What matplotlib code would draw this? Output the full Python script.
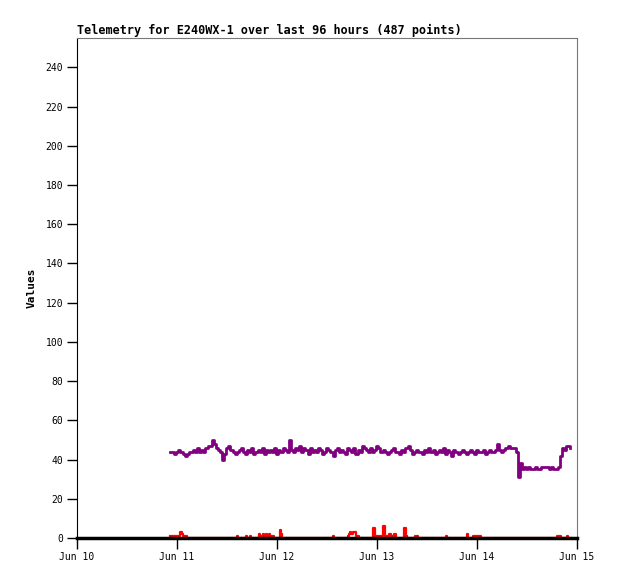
"""Telemetry chart for E240WX-1, last 96 hours."""
import matplotlib
matplotlib.use("Agg")
import matplotlib.pyplot as plt
import matplotlib.dates as mdates
import pandas as pd

t0 = pd.Timestamp("2024-06-10")

# purple channel, one reading every 30 min starting Jun 10 + 0.93 d
purple_start = 0.93
purple_vals = [
    44, 44, 43, 44, 45, 44, 43, 42, 43, 44,
    44, 45, 44, 46, 44, 45, 44, 46, 47, 47,
    50, 48, 46, 45, 44, 40, 43, 46, 47, 45,
    44, 43, 44, 45, 46, 44, 43, 45, 44, 46,
    43, 44, 45, 44, 46, 43, 45, 44, 45, 44,
    46, 43, 45, 44, 46, 45, 44, 50, 45, 44,
    46, 45, 47, 44, 46, 45, 43, 46, 44, 45,
    44, 46, 45, 43, 44, 46, 45, 44, 42, 45,
    46, 44, 45, 44, 43, 46, 45, 44, 46, 43,
    45, 44, 47, 46, 45, 44, 46, 44, 45, 47,
    46, 44, 45, 44, 43, 44, 45, 46, 44, 44,
    43, 45, 44, 46, 47, 45, 43, 44, 45, 44,
    44, 43, 45, 44, 46, 44, 45, 43, 44, 45,
    44, 46, 43, 45, 44, 42, 45, 44, 43, 44,
    45, 44, 43, 44, 45, 44, 43, 45, 44, 44,
    45, 43, 44, 45, 44, 44, 45, 48, 45, 44,
    45, 46, 47, 46, 46, 46, 44, 31, 38, 35,
    36, 35, 36, 35, 35, 36, 35, 35, 36, 36,
    36, 36, 35, 36, 35, 35, 36, 42, 46, 45,
    47, 47, 46,
]

# red channel, sparse readings (day offset from Jun 10, value)
red_days = [0.93, 1.02, 1.03, 1.05, 1.06, 1.10,
            1.60, 1.61, 1.69, 1.70, 1.73, 1.74,
            1.82, 1.83, 1.86, 1.87, 1.89, 1.90, 1.92, 1.93, 1.97,
            2.03, 2.04, 2.05,
            2.56, 2.57,
            2.71, 2.72, 2.73, 2.74, 2.76, 2.78, 2.79, 2.82,
            2.96, 2.98, 3.06, 3.08, 3.12, 3.14, 3.17, 3.19,
            3.27, 3.29, 3.30,
            3.38, 3.41, 3.69, 3.70, 3.90, 3.91, 3.96, 4.04,
            4.80, 4.84, 4.90, 4.91, 4.94]
red_vals = [1, 1, 3, 2, 1, 0,
            1, 0, 1, 0, 1, 0,
            2, 1, 2, 1, 2, 1, 2, 1, 0,
            4, 2, 0,
            1, 0,
            1, 2, 3, 2, 3, 3, 1, 0,
            5, 1, 6, 1, 2, 1, 2, 0,
            5, 1, 0,
            1, 0, 1, 0, 2, 0, 1, 0,
            1, 0, 1, 0, 0]

purple_t = pd.date_range(t0 + pd.Timedelta(days=purple_start),
                         periods=len(purple_vals), freq="30min")
red_t = [t0 + pd.Timedelta(days=d) for d in red_days]

mono = "DejaVu Sans Mono"
fig = plt.figure(figsize=(6.18, 5.79), dpi=100)
ax = fig.add_axes([77 / 618, 41 / 579, 500 / 618, 500 / 579])

ax.plot(red_t, red_vals, color="red", lw=1.6, drawstyle="steps-post", zorder=2)
ax.plot(purple_t, purple_vals, color="purple", lw=2.0, drawstyle="steps-post", zorder=3)

ax.set_xlim(t0, t0 + pd.Timedelta(days=5))
ax.set_ylim(0, 255)
ax.set_yticks(range(0, 241, 20))
ax.xaxis.set_major_locator(mdates.DayLocator())
ax.xaxis.set_major_formatter(mdates.DateFormatter("%b %d"))

for lab in ax.get_xticklabels() + ax.get_yticklabels():
    lab.set_family(mono)
    lab.set_fontsize(7)
ax.tick_params(axis="both", direction="out", length=7, width=1, color="black", pad=3)
ax.tick_params(axis="x", length=8, pad=2)

ax.spines["left"].set_color("black")
ax.spines["bottom"].set_color("black")
ax.spines["bottom"].set_linewidth(2.5)
ax.spines["top"].set_color("#777777")
ax.spines["right"].set_color("#777777")

ax.set_ylabel("Values", family=mono, fontweight="bold", fontsize=8, labelpad=6)
ax.set_title("Telemetry for E240WX-1 over last 96 hours (487 points)",
             family=mono, fontweight="bold", fontsize=8.45, loc="left", pad=3)

fig.savefig("out.png", dpi=100)
